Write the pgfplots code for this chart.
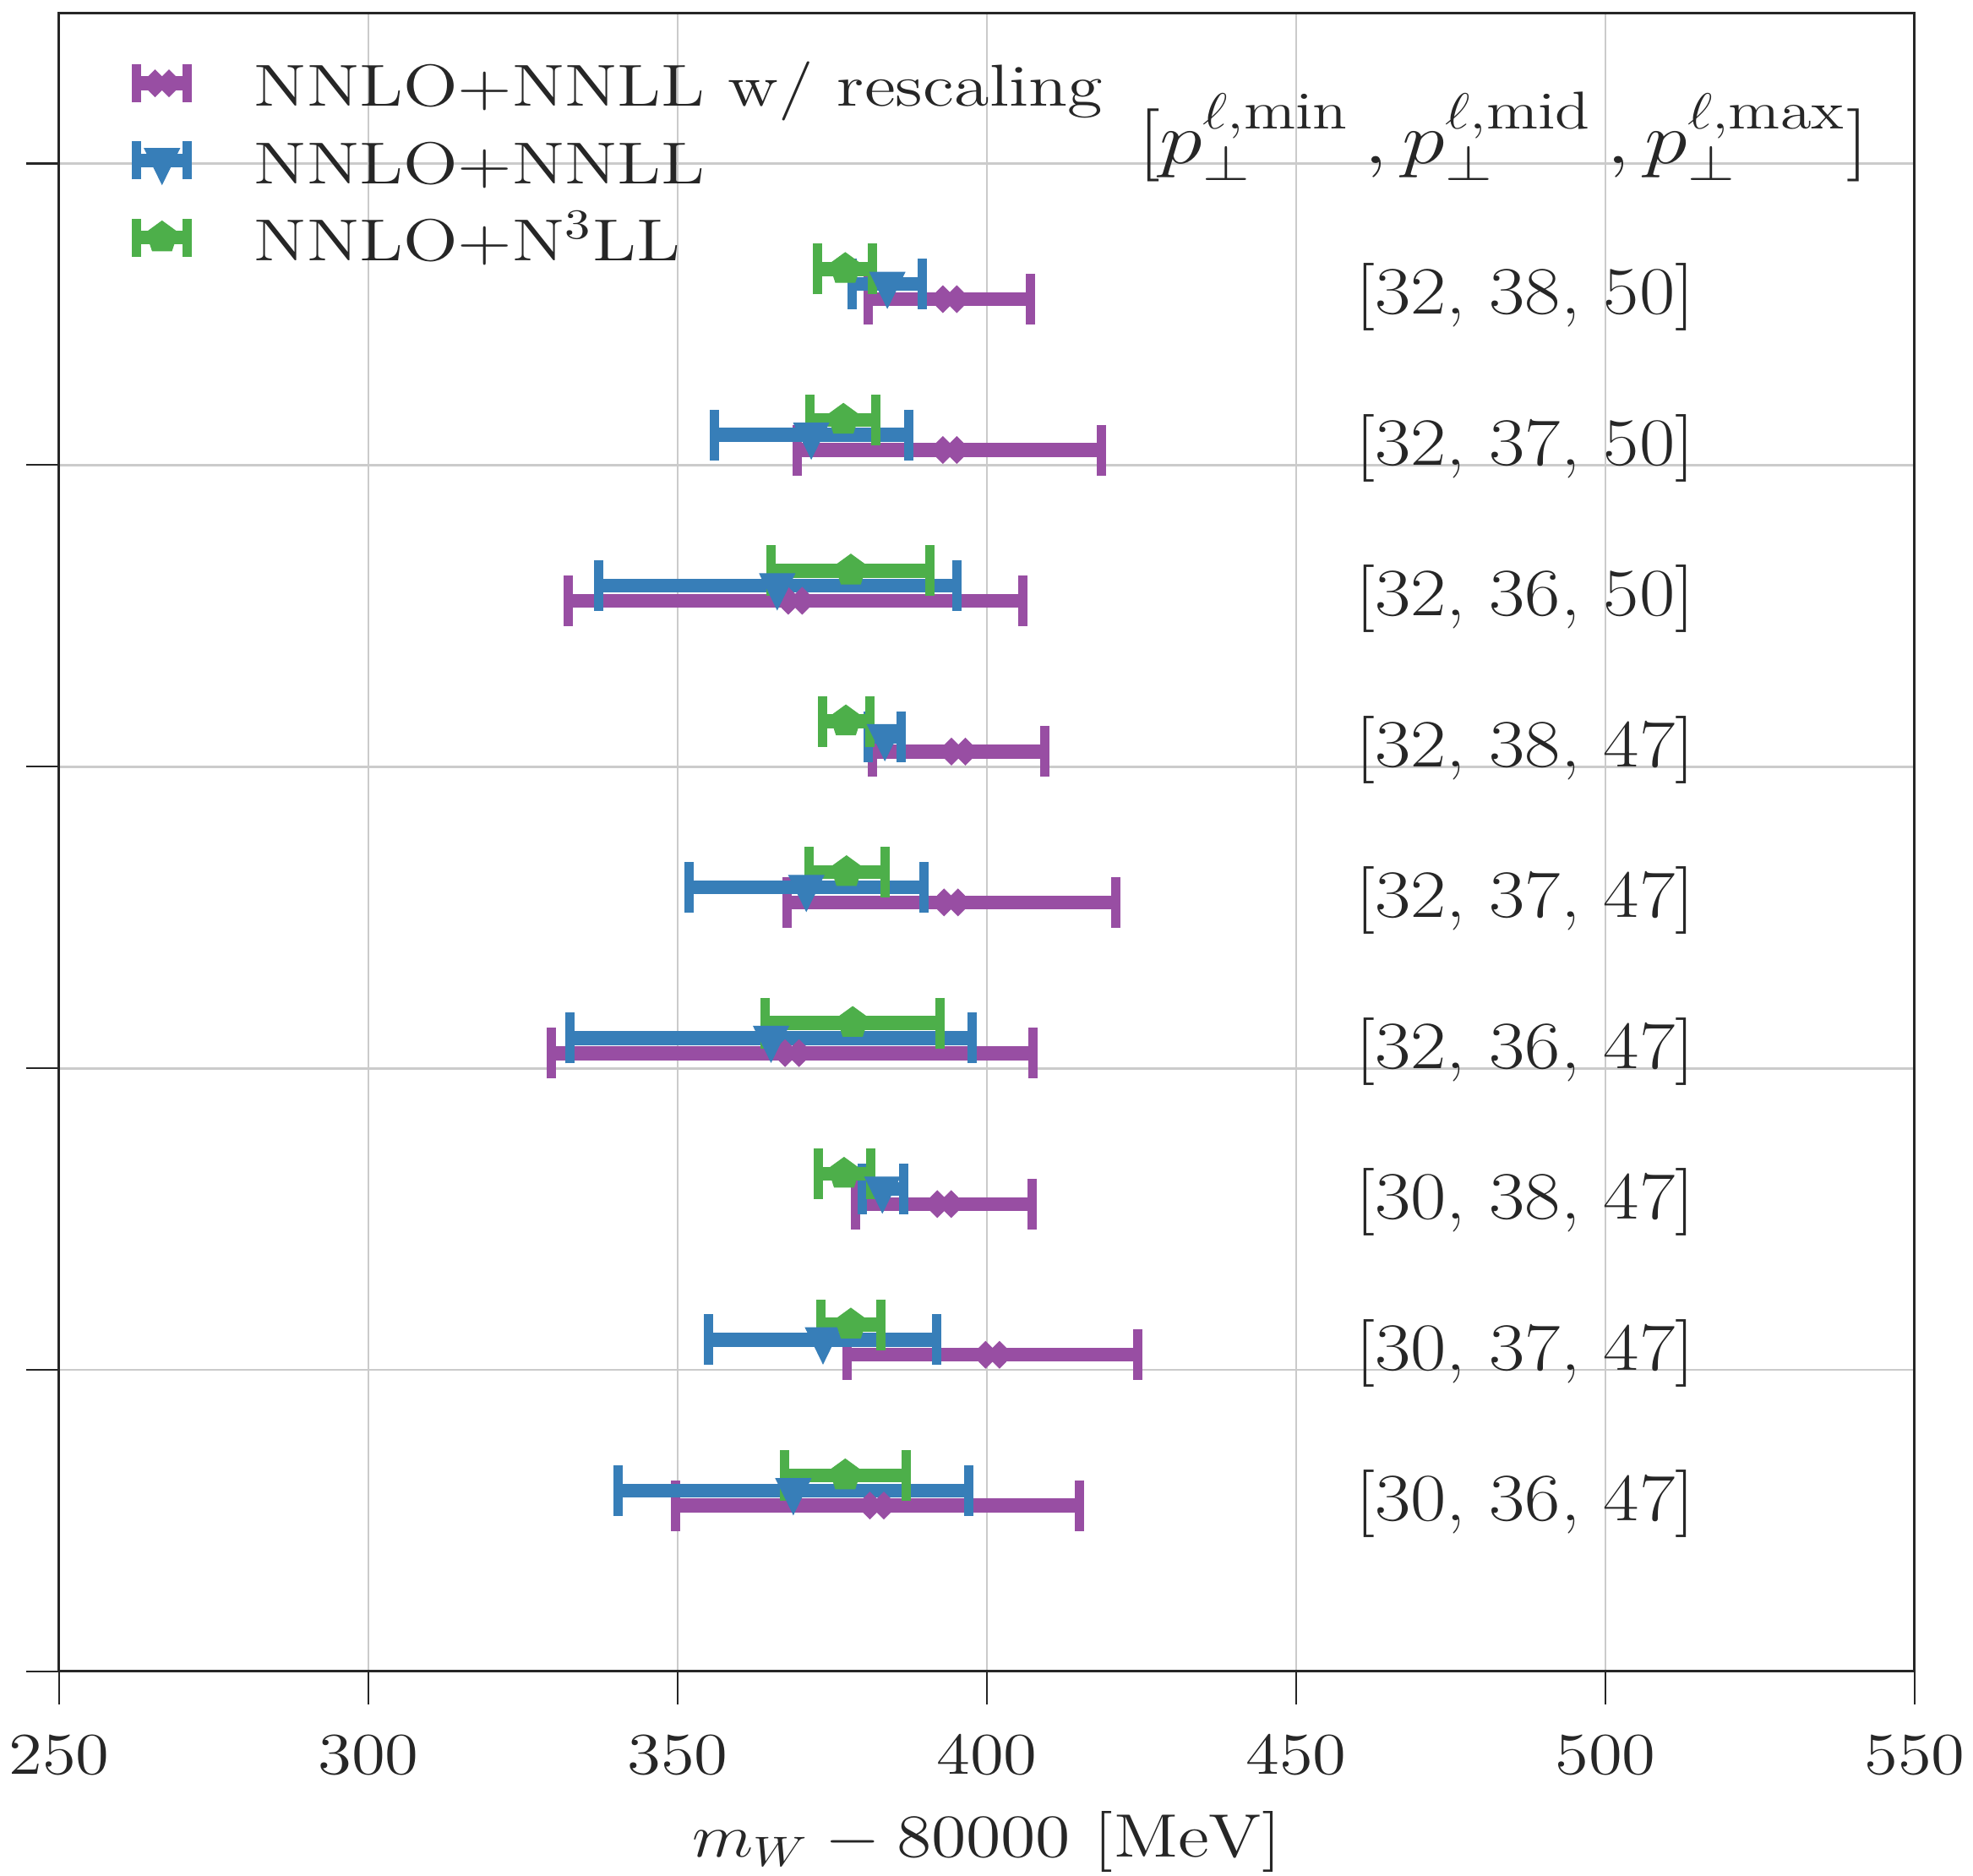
\documentclass[border=0pt]{standalone}
\usepackage{fontspec}
\usepackage{graphicx}
\usepackage{pgfplots}
\pgfplotsset{compat=1.18}
\usepackage{pgfplotstable}
\usetikzlibrary{plotmarks}

\definecolor{cpurple}{HTML}{984EA3}
\definecolor{cblue}{HTML}{377EB8}
\definecolor{cgreen}{HTML}{4DAF4A}
\definecolor{cgrid}{HTML}{CBCBCB}
\definecolor{ctext}{HTML}{262626}

\pgfdeclareplotmark{Xfill}{%
  \pgftransformrotate{45}%
  \pgfpathmoveto{\pgfpoint{-0.3333\pgfplotmarksize}{-\pgfplotmarksize}}%
  \pgfpathlineto{\pgfpoint{0.3333\pgfplotmarksize}{-\pgfplotmarksize}}%
  \pgfpathlineto{\pgfpoint{0.3333\pgfplotmarksize}{-0.3333\pgfplotmarksize}}%
  \pgfpathlineto{\pgfpoint{\pgfplotmarksize}{-0.3333\pgfplotmarksize}}%
  \pgfpathlineto{\pgfpoint{\pgfplotmarksize}{0.3333\pgfplotmarksize}}%
  \pgfpathlineto{\pgfpoint{0.3333\pgfplotmarksize}{0.3333\pgfplotmarksize}}%
  \pgfpathlineto{\pgfpoint{0.3333\pgfplotmarksize}{\pgfplotmarksize}}%
  \pgfpathlineto{\pgfpoint{-0.3333\pgfplotmarksize}{\pgfplotmarksize}}%
  \pgfpathlineto{\pgfpoint{-0.3333\pgfplotmarksize}{0.3333\pgfplotmarksize}}%
  \pgfpathlineto{\pgfpoint{-\pgfplotmarksize}{0.3333\pgfplotmarksize}}%
  \pgfpathlineto{\pgfpoint{-\pgfplotmarksize}{-0.3333\pgfplotmarksize}}%
  \pgfpathlineto{\pgfpoint{-0.3333\pgfplotmarksize}{-0.3333\pgfplotmarksize}}%
  \pgfpathclose
  \pgfusepathqfill}

% columns: y, central value, lower end, upper end
\pgfplotstableread{
y x lo hi
0.55 382.2 349.6 414.9
1.05 400.9 377.4 424.4
1.55 393.1 378.8 407.3
2.05 368.5 329.6 407.5
2.55 394.2 367.7 420.8
3.05 395.4 381.5 409.3
3.55 369.0 332.3 405.8
4.05 394.0 369.3 418.5
4.55 394.0 380.8 407.1
}\purpletab
\pgfplotstableread{
y x lo hi
0.60 368.7 340.4 397.0
1.10 373.5 355.0 391.9
1.60 383.1 379.9 386.6
2.10 365.1 332.6 397.6
2.60 370.8 351.8 389.8
3.10 383.5 380.8 386.2
3.60 366.1 337.2 395.2
4.10 371.6 355.9 387.4
4.60 383.9 378.2 389.6
}\bluetab
\pgfplotstableread{
y x lo hi
0.65 377.1 367.3 386.9
1.15 378.0 373.2 382.9
1.65 376.9 372.7 381.2
2.15 378.3 364.2 392.4
2.65 377.3 371.3 383.5
3.15 377.2 373.4 381.1
3.65 378.0 365.1 390.8
4.15 376.8 371.4 382.1
4.65 377.1 372.6 381.5
}\greentab

\pgfplotsset{
  errlegend/.style={legend image code/.code={%
    \draw[line width=3.3pt] (0pt,2.2pt) -- (14.2pt,2.2pt);
    \draw[line width=2.2pt] (1.1pt,-2.3pt) -- (1.1pt,6.7pt) (13.1pt,-2.3pt) -- (13.1pt,6.7pt);
    \draw plot coordinates {(7.1pt,2.2pt)};
  }},
  errstyle/.style={
    error bars/.cd, x dir=both, x explicit,
    error bar style={line width=3.3pt, #1},
    error mark options={rotate=90, line width=2.2pt, mark size=6pt, #1},
  },
}

\begin{document}
\begin{tikzpicture}
\useasboundingbox (-14pt,-48.4pt) rectangle (453pt,395.6pt);
\begin{axis}[
  scale only axis,
  width=439.2pt, height=392.6pt,
  xmin=250, xmax=550, ymin=0, ymax=5.5,
  xtick={250,300,...,550},
  ytick={0,1,2,3,4,5},
  yticklabels={},
  tick pos=left,
  tick align=outside,
  major tick length=7.8pt,
  tick style={line width=0.45pt, color=ctext},
  axis line style={line width=0.6pt, color=ctext},
  grid=major,
  major grid style={line width=0.55pt, color=cgrid},
  /pgf/number format/assume math mode=true,
  /pgf/number format/1000 sep={},
  xticklabel={\scalebox{1.16}[1]{\pgfmathprintnumber{\tick}}},
  xticklabel style={font=\fontsize{14}{16}\selectfont, text=ctext, yshift=-3.6pt},
  xlabel={\scalebox{1.17}[1]{$m_W - 80000\ [\mathrm{MeV}]$}},
  xlabel style={font=\fontsize{14.5}{17}\selectfont, text=ctext, at={(axis description cs:0.5,0)}, anchor=base, yshift=-44pt},
  legend style={at={(rel axis cs:0,1)}, anchor=north west, xshift=15.4pt, yshift=-10.9pt,
    draw=none, fill=none, inner sep=0pt, row sep=3.7pt,
    font=\fontsize{14}{16}\selectfont, text=ctext,
    nodes={inner sep=0pt, text height=10pt, text depth=3.5pt},
    /tikz/every odd column/.append style={column sep=13.1pt}},
  legend cell align=left,
]
\addplot[cpurple, only marks, mark=Xfill, mark size=3.5pt, errlegend, errstyle=cpurple]
  table[x=x, y=y, x error plus expr=\thisrow{hi}-\thisrow{x}, x error minus expr=\thisrow{x}-\thisrow{lo}] {\purpletab};
\addlegendentry{\scalebox{1.21}[1]{NNLO+NNLL w/ rescaling}}
\addplot[cblue, only marks, mark=triangle*, mark size=4.8pt, mark options={rotate=180, yscale=1.18, fill=cblue, draw=cblue, line width=0.2pt}, errlegend, errstyle=cblue]
  table[x=x, y=y, x error plus expr=\thisrow{hi}-\thisrow{x}, x error minus expr=\thisrow{x}-\thisrow{lo}] {\bluetab};
\addlegendentry{\scalebox{1.21}[1]{NNLO+NNLL}}
\addplot[cgreen, only marks, mark=pentagon*, mark size=3.9pt, mark options={fill=cgreen, draw=cgreen, line width=0.2pt}, errlegend, errstyle=cgreen]
  table[x=x, y=y, x error plus expr=\thisrow{hi}-\thisrow{x}, x error minus expr=\thisrow{x}-\thisrow{lo}] {\greentab};
\addlegendentry{\scalebox{1.21}[1]{NNLO+N$^3$LL}}

\begin{scope}[every node/.style={anchor=base, text=ctext, font=\fontsize{16}{18}\selectfont}]
\node at (axis cs:487,0.5) {\scalebox{1.15}[1]{[30, 36, 47]}};
\node at (axis cs:487,1.0) {\scalebox{1.15}[1]{[30, 37, 47]}};
\node at (axis cs:487,1.5) {\scalebox{1.15}[1]{[30, 38, 47]}};
\node at (axis cs:487,2.0) {\scalebox{1.15}[1]{[32, 36, 47]}};
\node at (axis cs:487,2.5) {\scalebox{1.15}[1]{[32, 37, 47]}};
\node at (axis cs:487,3.0) {\scalebox{1.15}[1]{[32, 38, 47]}};
\node at (axis cs:487,3.5) {\scalebox{1.15}[1]{[32, 36, 50]}};
\node at (axis cs:487,4.0) {\scalebox{1.15}[1]{[32, 37, 50]}};
\node at (axis cs:487,4.5) {\scalebox{1.15}[1]{[32, 38, 50]}};
\end{scope}
\node[anchor=base, text=ctext, font=\fontsize{18}{20}\selectfont] at (axis cs:483.5,5.0)
  {\scalebox{1.19}[1]{$[p_\perp^{\ell,\mathrm{min}}\,, p_\perp^{\ell,\mathrm{mid}}\,, p_\perp^{\ell,\mathrm{max}}]$}};
\end{axis}
\end{tikzpicture}
\end{document}
